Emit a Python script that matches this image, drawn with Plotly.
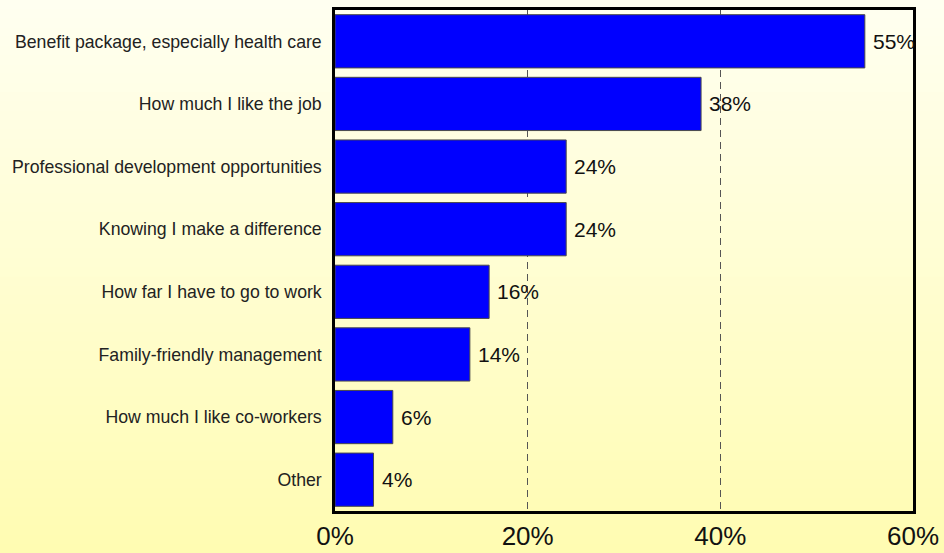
import plotly.graph_objects as go

# Survey results: reasons for staying in the job
categories = [
    "Benefit package, especially health care",
    "How much I like the job",
    "Professional development opportunities",
    "Knowing I make a difference",
    "How far I have to go to work",
    "Family-friendly management",
    "How much I like co-workers",
    "Other",
]
percentages = [55, 38, 24, 24, 16, 14, 6, 4]
tick_values = [0, 20, 40, 60]
tick_labels = ["0%", "20%", "40%", "60%"]

FONT = "Liberation Sans, Arial, sans-serif"
W, H = 944, 553
M_L, M_R, M_T, M_B = 335, 31, 10, 42

fig = go.Figure(
    go.Bar(
        x=percentages,
        y=categories,
        orientation="h",
        marker=dict(color="#0000FF", line=dict(color="#4a4a4a", width=1)),
        width=0.85,
        cliponaxis=False,
        hoverinfo="skip",
    )
)

# Value labels just to the right of each bar
for v, c in zip(percentages, categories):
    fig.add_annotation(
        x=v, y=c, xref="x", yref="y",
        text=f"{v}%", showarrow=False,
        xanchor="left", yanchor="middle", xshift=6,
        font=dict(family=FONT, size=21, color="#111111"),
    )

# Soft vertical gradient behind the whole figure
n_strips = 60
top_rgb = (255, 255, 240)
bottom_rgb = (255, 252, 178)
ph = H - M_T - M_B
for i in range(n_strips):
    f = i / (n_strips - 1)
    r = round(top_rgb[0] + (bottom_rgb[0] - top_rgb[0]) * f)
    g = round(top_rgb[1] + (bottom_rgb[1] - top_rgb[1]) * f)
    b = round(top_rgb[2] + (bottom_rgb[2] - top_rgb[2]) * f)
    y_top_px = H * i / n_strips - (20 if i == 0 else 0)
    y_bot_px = H * (i + 1) / n_strips + (40 if i == n_strips - 1 else 1)
    # convert pixel rows to paper coordinates
    y0 = (H - M_B - y_bot_px) / ph
    y1 = (H - M_B - y_top_px) / ph
    fig.add_shape(
        type="rect", xref="paper", yref="paper",
        x0=-2, x1=2, y0=y0, y1=y1,
        fillcolor=f"rgb({r},{g},{b})", line=dict(width=0), layer="below",
    )

fig.update_layout(
    width=W,
    height=H,
    margin=dict(l=M_L, r=M_R, t=M_T, b=M_B, autoexpand=False),
    paper_bgcolor="rgb(255,253,210)",
    plot_bgcolor="white",
    showlegend=False,
    font=dict(family=FONT, color="#222222"),
    bargap=0.15,
)

fig.update_xaxes(
    range=[0, 60],
    tickvals=tick_values,
    ticktext=tick_labels,
    tickfont=dict(family=FONT, size=26, color="#111111"),
    showgrid=True,
    gridcolor="#555555",
    gridwidth=1,
    griddash="7px,5px",
    zeroline=False,
    showline=True,
    linecolor="black",
    linewidth=2.5,
    mirror=True,
    ticks="",
    automargin=False,
)

fig.update_yaxes(
    categoryorder="array",
    categoryarray=categories,
    autorange="reversed",
    tickfont=dict(family=FONT, size=17.7, color="#222222"),
    showgrid=False,
    zeroline=False,
    showline=True,
    linecolor="black",
    linewidth=2.5,
    mirror=True,
    ticks="",
    ticklabelstandoff=7,
    automargin=False,
)

fig.write_html("out.html")
